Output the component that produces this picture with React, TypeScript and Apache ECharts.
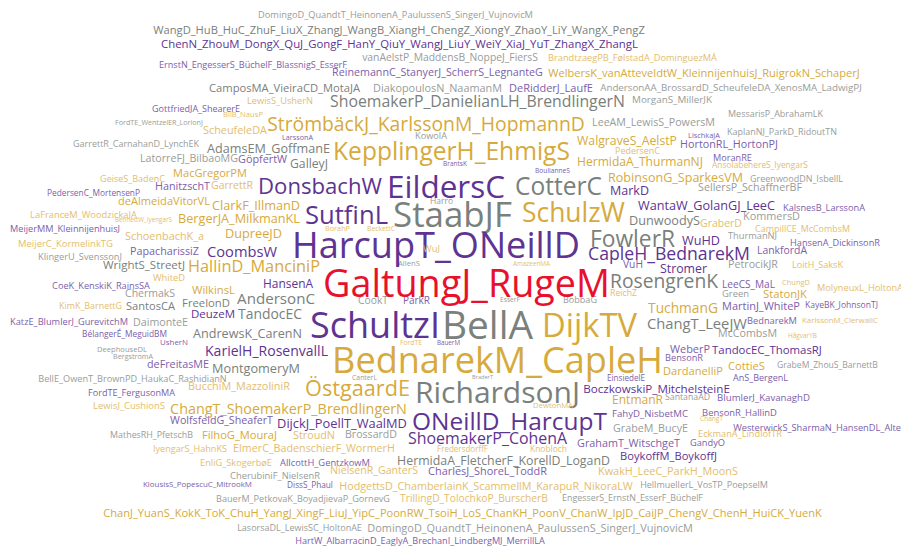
import { useEffect, useRef } from "react";
import * as echarts from "echarts";

// [word, left edge, right edge, vertical centre] in chart units (0..901 x 0..547)
type W = [string, number, number, number];

const grayWords: W[] = [
  ["DomingoD_QuandtT_HeinonenA_PaulussenS_SingerJ_VujnovicM", 258, 533, 14],
  ["WangD_HuB_HuC_ZhuF_LiuX_ZhangJ_WangB_XiangH_ChengZ_XiongY_ZhaoY_LiY_WangX_PengZ", 153, 645, 29],
  ["vanAelstP_MaddensB_NoppeJ_FiersS", 362, 538, 57],
  ["CamposMA_VieiraCD_MotaJA", 209, 360, 87],
  ["DiakopoulosN_NaamanM", 373, 502, 87],
  ["AndersonAA_BrossardD_ScheufeleDA_XenosMA_LadwigPJ", 600, 862, 87],
  ["ShoemakerP_DanielianLH_BrendlingerN", 330, 625, 101],
  ["MorganS_MillerJK", 632, 712, 99],
  ["MessarisP_AbrahamLK", 728, 823, 113],
  ["LeeAM_LewisS_PowersM", 592, 715, 122],
  ["FordTE_WentzelER_LorionJ", 115, 203, 122],
  ["KaplanNJ_ParkD_RidoutTN", 727, 837, 131],
  ["KowolA", 415, 447, 135],
  ["GarrettR_CarnahanD_LynchEK", 73, 199, 143],
  ["AdamsEM_GoffmanE", 207, 330, 148],
  ["LatorreFJ_BilbaoMG", 140, 238, 158],
  ["GalleyJ", 290, 328, 163],
  ["StaabJF", 393, 512, 213],
  ["CotterC", 515, 602, 185],
  ["GreenwoodDN_IsbellL", 750, 843, 178],
  ["SellersP_SchaffnerBF", 698, 802, 187],
  ["Harro", 430, 453, 200],
  ["DunwoodyS", 629, 700, 220],
  ["KommersD", 743, 800, 215],
  ["ThurmanNJ", 728, 777, 235],
  ["FowlerR", 590, 675, 238],
  ["KlingerU_SvenssonJ", 38, 122, 256],
  ["WrightS_StreetJ", 103, 185, 264],
  ["AllenS", 398, 420, 263],
  ["PetrocikJR", 728, 778, 264],
  ["RosengrenK", 610, 718, 280],
  ["ChermakS", 125, 175, 293],
  ["Green", 722, 749, 293],
  ["AndersonC", 237, 315, 298],
  ["CookT", 358, 388, 300],
  ["EsserF", 500, 520, 299],
  ["BobbaG", 563, 597, 299],
  ["FreelonD", 182, 230, 302],
  ["SantosCA", 126, 175, 305],
  ["TandocEC", 238, 302, 313],
  ["DaimonteE", 133, 188, 322],
  ["BellA", 442, 533, 324],
  ["ChangT_LeeJW", 647, 747, 323],
  ["AndrewsK_CarenN", 193, 302, 333],
  ["McCombsM", 718, 777, 333],
  ["DeephouseDL", 97, 147, 349],
  ["BergstromA", 113, 153, 356],
  ["GrabeM_ZhouS_BarnettB", 777, 878, 365],
  ["MontgomeryM", 212, 300, 368],
  ["BellE_OwenT_BrownPD_HaukaC_RashidianN", 38, 227, 378],
  ["CanterL", 352, 377, 377],
  ["BraderT", 472, 493, 377],
  ["RichardsonJ", 415, 580, 391],
  ["SantanaAD", 665, 710, 397],
  ["GrabeM_BucyE", 613, 688, 428],
  ["MathesRH_PfetschB", 110, 193, 434],
  ["BrossardD", 345, 397, 434],
  ["HermidaA_FletcherF_KorellD_LoganD", 397, 610, 460],
  ["CherubiniF_NielsenR", 230, 320, 475],
  ["HellmuellerL_VosTP_PoepselM", 640, 768, 484],
  ["BauerM_PetkovaK_BoyadjievaP_GornevG", 216, 390, 498],
  ["EngesserS_ErnstN_EsserF_BüchelF", 562, 703, 498],
  ["LasorsaDL_LewisSC_HoltonAE", 237, 362, 527],
  ["DomingoD_QuandtT_HeinonenA_PaulussenS_SingerJ_VujnovicM", 367, 693, 527],
];

const purpleWords: W[] = [
  ["ChenN_ZhouM_DongX_QuJ_GongF_HanY_QiuY_WangJ_LiuY_WeiY_XiaJ_YuT_ZhangX_ZhangL", 161, 638, 43],
  ["ErnstN_EngesserS_BüchelF_BlassnigS_EsserF", 159, 347, 64],
  ["ReinemannC_StanyerJ_ScherrS_LegnanteG", 332, 543, 72],
  ["DeRidderJ_LaufE", 509, 593, 87],
  ["GottfriedJA_ShearerE", 152, 240, 108],
  ["LarssonA", 282, 313, 137],
  ["LischkaJA", 688, 720, 135],
  ["HortonRL_HortonPJ", 680, 778, 143],
  ["GöpfertW", 238, 287, 158],
  ["MoranRE", 713, 752, 157],
  ["BrantsK", 443, 467, 163],
  ["BoulianneS", 535, 570, 170],
  ["EildersC", 387, 505, 185],
  ["HanitzschT", 155, 210, 185],
  ["DonsbachW", 258, 382, 185],
  ["MarkD", 610, 649, 190],
  ["PedersenC_MortensenP", 47, 140, 192],
  ["SutfinL", 305, 388, 214],
  ["WantaW_GolanGJ_LeeC", 638, 775, 205],
  ["KalsnesB_LarssonA", 783, 865, 207],
  ["MeijerMM_KleinnijenhuisJ", 10, 120, 228],
  ["HarcupT_ONeillD", 292, 580, 244],
  ["WuHD", 682, 720, 240],
  ["HansenA_DickinsonR", 790, 880, 242],
  ["PapacharissiZ", 130, 199, 250],
  ["CoombsW", 207, 277, 251],
  ["LankfordA", 757, 807, 250],
  ["CapleH_BednarekM", 588, 750, 253],
  ["VuH", 623, 643, 264],
  ["Stromer", 660, 707, 268],
  ["LeeCS_MaL", 722, 775, 284],
  ["HansenA", 263, 313, 283],
  ["CoeK_KenskiK_RainsSA", 52, 150, 285],
  ["ParkR", 403, 430, 300],
  ["MartinJ_WhiteP", 722, 800, 305],
  ["KayeBK_JohnsonTJ", 805, 878, 305],
  ["DeuzeM", 191, 235, 313],
  ["KatzE_BlumlerJ_GurevitchM", 10, 128, 321],
  ["SchultzI", 310, 440, 324],
  ["BednarekM", 747, 797, 320],
  ["BélangerÉ_MeguidBM", 82, 167, 333],
  ["UsherN", 160, 188, 342],
  ["BauerM", 437, 460, 342],
  ["WeberP", 670, 710, 348],
  ["TandocEC_ThomasRJ", 712, 822, 349],
  ["KarielH_RosenvallL", 205, 328, 350],
  ["BensonR", 665, 703, 357],
  ["deFreitasME", 147, 209, 363],
  ["EinsiedelE", 607, 645, 377],
  ["AnS_BergenL", 733, 788, 377],
  ["BoczkowskiP_MitchelsteinE", 583, 730, 388],
  ["FordTE_FergusonMA", 88, 175, 392],
  ["BlumlerJ_KavanaghD", 717, 810, 397],
  ["FahyD_NisbetMC", 612, 688, 413],
  ["BensonR_HallinD", 702, 777, 412],
  ["ONeillD_HarcupT", 412, 607, 420],
  ["WolfsfeldG_SheaferT", 170, 273, 420],
  ["DijckJ_PoellT_WaalMD", 277, 407, 423],
  ["WesterwickS_SharmaN_HansenDL_Alter", 733, 905, 427],
  ["ShoemakerP_CohenA", 408, 567, 438],
  ["GrahamT_WitschgeT", 577, 680, 442],
  ["GandyO", 690, 725, 442],
  ["BoykoffM_BoykoffJ", 620, 717, 455],
  ["AllcottH_GentzkowM", 280, 370, 462],
  ["CharlesJ_ShoreL_ToddR", 428, 547, 470],
  ["KlousisS_PopescuC_MitrookM", 143, 252, 484],
  ["DissS_Phaul", 287, 333, 484],
  ["HartW_AlbarracinD_EaglyA_BrechanI_LindbergMJ_MerrillLA", 295, 545, 540],
];

const goldWords: W[] = [
  ["BrandtzaegPB_FølstadA_DominguezMÁ", 548, 717, 57],
  ["WelbersK_vanAtteveldtW_KleinnijenhuisJ_RuigrokN_SchaperJ", 548, 860, 72],
  ["LewisS_UsherN", 247, 313, 100],
  ["BilB_NausP", 223, 263, 114],
  ["StrömbäckJ_KarlssonM_HopmannD", 267, 585, 123],
  ["ScheufeleDA", 203, 267, 129],
  ["WalgraveS_AelstP", 577, 677, 140],
  ["PedersenC", 615, 660, 150],
  ["KepplingerH_EhmigS", 333, 570, 150],
  ["AnsolabehereS_IyengarS", 712, 808, 164],
  ["HermidaA_ThurmanNJ", 577, 703, 161],
  ["MacGregorPM", 173, 247, 172],
  ["RobinsonG_SparkesVM", 608, 743, 177],
  ["GeiseS_BadenC", 100, 165, 178],
  ["GarrettR", 211, 253, 185],
  ["deAlmeidaVitorVL", 118, 210, 200],
  ["ClarkF_IllmanD", 212, 300, 205],
  ["SchulzW", 522, 625, 212],
  ["GraberD", 700, 742, 223],
  ["LaFranceM_WoodzickaJA", 30, 137, 214],
  ["BennettW_IyengarS", 115, 172, 219],
  ["BergerJA_MilkmanKL", 178, 300, 218],
  ["CampillCE_McCombsM", 755, 850, 228],
  ["BorahP", 325, 350, 228],
  ["BeckettC", 367, 395, 228],
  ["SchoenbachK_a", 125, 204, 235],
  ["DupreeJD", 225, 282, 233],
  ["MeijerC_KormelinkTG", 18, 113, 243],
  ["WuJ", 423, 440, 248],
  ["HallinD_ManciniP", 188, 320, 266],
  ["AmazeenMA", 513, 550, 263],
  ["LoitH_SaksK", 792, 843, 264],
  ["WhiteD", 153, 185, 277],
  ["ChungD", 782, 810, 282],
  ["MolyneuxL_HoltonA", 817, 903, 287],
  ["WilkinsL", 192, 235, 289],
  ["ReichZ", 610, 637, 293],
  ["StatonJK", 763, 807, 293],
  ["KimK_BarnettG", 59, 122, 305],
  ["TuchmanG", 648, 718, 307],
  ["DijkTV", 542, 637, 324],
  ["KarlssonM_ClerwallC", 802, 878, 320],
  ["HågvarYB", 788, 817, 335],
  ["FordTE", 400, 422, 342],
  ["BednarekM_CapleH", 332, 663, 359],
  ["CottieS", 728, 765, 365],
  ["DardanelliP", 663, 723, 370],
  ["BucchiM_MazzoliniR", 188, 290, 385],
  ["ÖstgaardE", 305, 410, 387],
  ["EntmanR", 612, 663, 399],
  ["LewisJ_CushionS", 93, 165, 405],
  ["DewtonMA", 533, 573, 405],
  ["ChangT_ShoemakerP_BrendlingerN", 170, 407, 408],
  ["ChangT", 700, 723, 418],
  ["EckmanA_LindlöfTR", 698, 782, 433],
  ["FilhoG_MouraJ", 202, 277, 434],
  ["StroudN", 293, 335, 434],
  ["IyengarS_HahnKS", 153, 227, 448],
  ["ElmerC_BadenschierF_WormerH", 233, 395, 448],
  ["FredersdorffF", 437, 488, 448],
  ["Knobloch", 530, 567, 448],
  ["EnliG_SkogerbøE", 200, 272, 462],
  ["NielsenR_GanterS", 330, 418, 470],
  ["KwakH_LeeC_ParkH_MoonS", 598, 738, 470],
  ["HodgettsD_ChamberlainK_ScammellM_KarapuR_NikoraLW", 339, 633, 485],
  ["TrillingD_TolochkoP_BurscherB", 400, 548, 498],
  ["ChanJ_YuanS_KokK_ToK_ChuH_YangJ_XingF_LiuJ_YipC_PoonRW_TsoiH_LoS_ChanKH_PoonV_ChanW_IpJD_CaiJP_ChengV_ChenH_HuiCK_YuenK", 103, 822, 512],
];

const redWords: W[] = [["GaltungJ_RugeM", 323, 610, 282]];

const FONT = '"Open Sans", "Noto Sans", sans-serif';

const palettes = [
  { list: grayWords, dark: "#7a807b", light: "#999c99" },
  { list: purpleWords, dark: "#5e3391", light: "#7b60ab" },
  { list: goldWords, dark: "#d6aa3c", light: "#e4bd6e" },
  { list: redWords, dark: "#e8112d", light: "#e8112d" },
];

export default function App() {
  const ref = useRef<HTMLDivElement>(null);
  useEffect(() => {
    if (!ref.current) return;
    const chart = echarts.init(ref.current, null, { renderer: "svg" });
    const canvas = document.createElement("canvas");
    const ctx = canvas.getContext("2d")!;
    ctx.font = `100px ${FONT}`;
    const items: { name: string; value: number[]; color: string }[] = [];
    palettes.forEach((p) => {
      p.list.forEach(([t, l, r, y]) => {
        const em = ctx.measureText(t).width / 100;
        const fs = (r - l) / em;
        items.push({ name: t, value: [(l + r) / 2, y, fs], color: fs < 11 ? p.light : p.dark });
      });
    });
    chart.setOption({
      animation: false,
      backgroundColor: "#ffffff",
      grid: { left: 0, right: 0, top: 0, bottom: 0 },
      xAxis: { type: "value", min: 0, max: 901, show: false },
      yAxis: { type: "value", min: 0, max: 547, inverse: true, show: false },
      series: [
        {
          type: "custom",
          silent: true,
          clip: false,
          data: items.map((d) => ({ name: d.name, value: d.value })),
          renderItem: (params: any, api: any) => {
            const it = items[params.dataIndex];
            const pt = api.coord([api.value(0), api.value(1)]);
            return {
              type: "text",
              x: pt[0],
              y: pt[1],
              style: {
                text: it.name,
                fontSize: api.value(2),
                fontFamily: FONT,
                fill: it.color,
                align: "center",
                verticalAlign: "middle",
              },
            };
          },
        },
      ],
    });
    return () => chart.dispose();
  }, []);
  return (
    <div
      ref={ref}
      style={{ position: "fixed", left: 0, top: 0, width: 901, height: 547, background: "#fff" }}
    />
  );
}
